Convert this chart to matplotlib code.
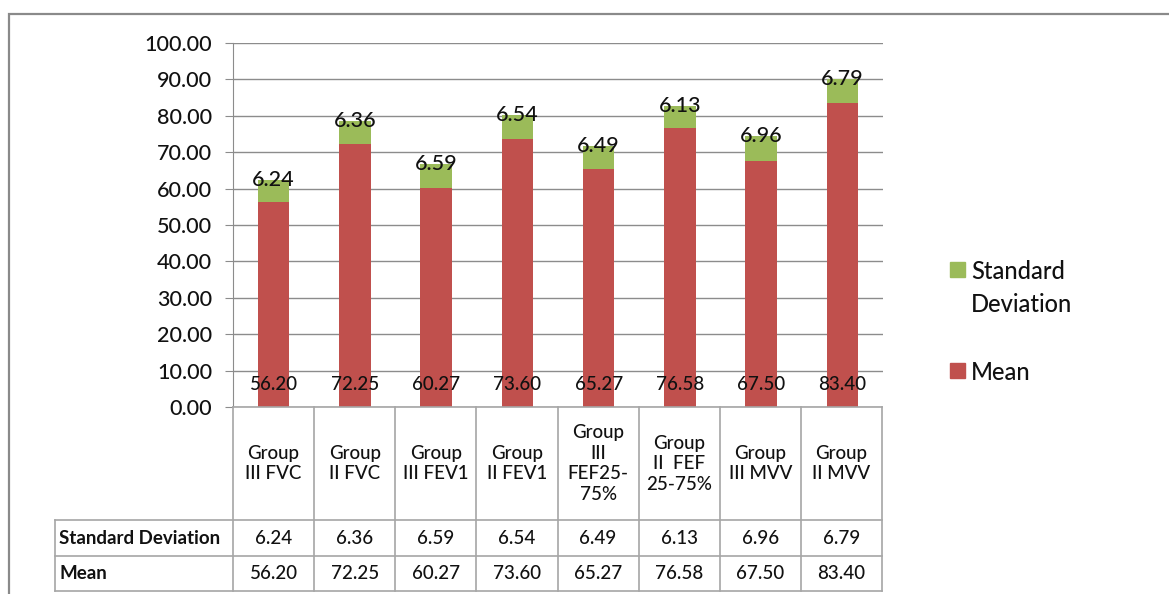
import matplotlib
matplotlib.use("Agg")
import numpy as np
import matplotlib.pyplot as plt
import matplotlib.patches as patches

# данные
groups = ["Group\nIII FVC", "Group\nII FVC", "Group\nIII FEV1", "Group\nII FEV1",
          "Group\nIII\nFEF25-\n75%", "Group\nII  FEF\n25-75%", "Group\nIII MVV", "Group\nII MVV"]
mean_vals = [56.20, 72.25, 60.27, 73.60, 65.27, 76.58, 67.50, 83.40]
sd_vals   = [6.24, 6.36, 6.59, 6.54, 6.49, 6.13, 6.96, 6.79]
y_ticks   = [0, 10, 20, 30, 40, 50, 60, 70, 80, 90, 100]
row_names = ["Standard Deviation", "Mean"]

RED   = "#c0504d"
GREEN = "#9bbb59"
GRID  = "#8c8c8c"
EDGE  = "#a6a6a6"

plt.rcParams["font.family"] = ["Lato", "DejaVu Sans"]
plt.rcParams["font.weight"] = "medium"
plt.rcParams["text.color"] = "#111111"

W, H = 1169, 594
fig = plt.figure(figsize=(W / 100, H / 100), dpi=100)

# рамка вокруг всей диаграммы (уходит за край картинки)
fig.patches.append(patches.Rectangle((9 / W, -0.1), 1.2, 1 - 14 / H + 0.1,
                                     transform=fig.transFigure, fill=False,
                                     edgecolor="#8a8a8a", linewidth=1.6))

ax = fig.add_axes([233 / W, 1 - 407 / H, 650 / W, 364 / H])
x = np.arange(len(groups))

ax.bar(x, mean_vals, width=0.39, color=RED, zorder=3)
ax.bar(x, sd_vals, width=0.39, bottom=mean_vals, color=GREEN, zorder=3)

for i in range(len(groups)):
    ax.annotate(f"{sd_vals[i]:.2f}", (x[i], mean_vals[i] + sd_vals[i]),
                ha="center", va="center", fontsize=15.5, zorder=4)
    ax.annotate(f"{mean_vals[i]:.2f}", (x[i], 0), xytext=(0, 22), textcoords="offset pixels",
                ha="center", va="center", fontsize=13.5, zorder=4)

ax.set_xlim(-0.5, len(groups) - 0.5)
ax.set_ylim(0, 100)
ax.set_yticks(y_ticks)
ax.set_yticklabels([f"{v:.2f}" for v in y_ticks], fontsize=15.5)
ax.set_xticks([])
ax.tick_params(axis="y", length=6, color=GRID, pad=9, labelcolor="#111111")
ax.grid(axis="y", color=GRID, linewidth=1, zorder=0)
for s in ["top", "right", "bottom"]:
    ax.spines[s].set_visible(False)
ax.spines["left"].set_color(GRID)

# таблица данных: отдельная ось, x совпадает с категориями графика
tab = fig.add_axes([55 / W, 1 - 591 / H, 827 / W, 184 / H])
lab_w = 178 / 81.1           # ширина колонки с подписями в единицах категорий
tab.set_xlim(-0.5 - lab_w, len(groups) - 0.5)
tab.set_ylim(184, 0)
tab.axis("off")
row_edges = [0, 113, 149, 184]
n = len(groups)
lk = dict(color=EDGE, linewidth=1.2, clip_on=False)
# горизонтальные линии
tab.plot([-0.5, n - 0.5], [row_edges[0]] * 2, **lk)
for yv in row_edges[1:]:
    tab.plot([-0.5 - lab_w, n - 0.5], [yv, yv], **lk)
# вертикальные линии
for xv in np.arange(n + 1) - 0.5:
    tab.plot([xv, xv], [0, 184], **lk)
tab.plot([-0.5 - lab_w] * 2, [113, 184], **lk)

for i in range(n):
    tab.text(x[i], (row_edges[0] + row_edges[1]) / 2, groups[i], ha="center", va="center",
             fontsize=13.5, linespacing=1.25)
    tab.text(x[i], (row_edges[1] + row_edges[2]) / 2, f"{sd_vals[i]:.2f}",
             ha="center", va="center", fontsize=13.5)
    tab.text(x[i], (row_edges[2] + row_edges[3]) / 2, f"{mean_vals[i]:.2f}",
             ha="center", va="center", fontsize=13.5)
for j, name in enumerate(row_names):
    tab.text(-0.5 - lab_w + 0.05, (row_edges[j + 1] + row_edges[j + 2]) / 2, name,
             ha="left", va="center", fontsize=13.5, fontweight="bold")

# легенда
leg_items = [("Standard\nDeviation", GREEN, 262), ("Mean", RED, 363)]
for label, col, ytop in leg_items:
    fig.patches.append(patches.Rectangle((950 / W, 1 - (ytop + 15) / H), 15 / W, 15 / H,
                                         transform=fig.transFigure, color=col))
    fig.text(971 / W, 1 - (ytop - 2) / H, label, ha="left", va="top",
             fontsize=17, linespacing=1.55)

fig.savefig("out.png", dpi=100)
